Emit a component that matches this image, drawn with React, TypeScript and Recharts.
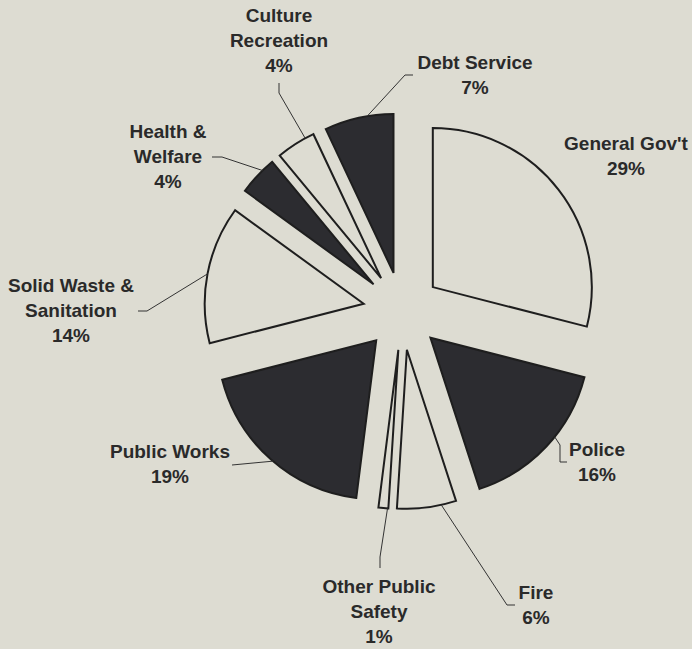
import { PieChart, Pie, Cell } from 'recharts';

// slices clockwise from 12 o'clock
const categories = [
  "General Gov't",
  'Police',
  'Fire',
  'Other Public Safety',
  'Public Works',
  'Solid Waste & Sanitation',
  'Health & Welfare',
  'Culture Recreation',
  'Debt Service',
];
const shares = [29, 16, 6, 1, 19, 14, 4, 4, 7];
const shaded = [false, true, false, false, true, false, true, false, true];
const labelText = [
  ["General Gov't"],
  ['Police'],
  ['Fire'],
  ['Other Public', 'Safety'],
  ['Public Works'],
  ['Solid Waste &', 'Sanitation'],
  ['Health &', 'Welfare'],
  ['Culture', 'Recreation'],
  ['Debt Service'],
];

const W = 692;
const H = 649;
const CX = 402;
const CY = 311;
const R = 159;
const EXPLODE = 39;
const BG = '#dddcd2';
const DARK = '#2c2c30';
const EDGE = '#1e1e1e';
const INK = '#2a2a2a';
const FONT = '"Liberation Sans", Arial, sans-serif';
const FONT_SIZE = 19;
const LINE_H = 25;

// where each label sits, and the leader path (text side first); nudge moves the arc anchor (deg, clockwise)
const labelLayout = [
  { x: 626, y: 150, lead: [] as number[][], nudge: 0 },
  { x: 597, y: 456, lead: [[567, 462], [560, 462], [560, 445]], nudge: -4.6 },
  { x: 536, y: 599, lead: [[515, 605], [507, 605]], nudge: -5.3 },
  { x: 379, y: 593, lead: [[380, 568], [380, 557]], nudge: -1.5 },
  { x: 170, y: 458, lead: [[232, 465]], nudge: -0.9 },
  { x: 71, y: 292, lead: [[138, 311], [147, 311]], nudge: 0 },
  { x: 168, y: 138, lead: [[212, 157], [222, 157]], nudge: 2.5 },
  { x: 279, y: 22, lead: [[279, 83], [279, 93]], nudge: 3.9 },
  { x: 475, y: 69, lead: [[413, 75], [405, 75]], nudge: 3.1 },
];

const data = categories.map((name, i) => ({ name, value: shares[i] }));
const total = shares.reduce((a, b) => a + b, 0);
const RAD = Math.PI / 180;

// mid angle of each slice, clockwise from 12 o'clock
const midAngles = shares.map((v, i) => {
  const before = shares.slice(0, i).reduce((a, b) => a + b, 0);
  return ((before + v / 2) / total) * 360;
});

const makeLabel = (own: number) => (props: any) => {
  if (props.index !== own) return null;
  const lay = labelLayout[own];
  const lines = [...labelText[own], `${shares[own]}%`];
  const ang = (props.midAngle - lay.nudge) * RAD;
  const ax = props.cx + Math.cos(-ang) * props.outerRadius;
  const ay = props.cy + Math.sin(-ang) * props.outerRadius;
  const pts = lay.lead.length ? [...lay.lead, [ax, ay]] : [];
  return (
    <g>
      {pts.length > 0 && (
        <polyline
          points={pts.map((p) => p.join(',')).join(' ')}
          fill="none"
          stroke="#333"
          strokeWidth={1}
        />
      )}
      <text
        x={lay.x}
        y={lay.y}
        textAnchor="middle"
        fill={INK}
        fontFamily={FONT}
        fontSize={FONT_SIZE}
        fontWeight="bold"
      >
        {lines.map((ln, k) => (
          <tspan key={k} x={lay.x} y={lay.y + k * LINE_H}>
            {ln}
          </tspan>
        ))}
      </text>
    </g>
  );
};

export default function App() {
  return (
    <div style={{ position: 'absolute', left: 0, top: 0, width: W, height: H, background: BG }}>
      <PieChart width={W} height={H} margin={{ top: 0, right: 0, bottom: 0, left: 0 }}>
        {data.map((_d, i) => (
          <Pie
            key={`slice-${i}`}
            data={data}
            dataKey="value"
            nameKey="name"
            cx={CX + EXPLODE * Math.sin(midAngles[i] * RAD)}
            cy={CY - EXPLODE * Math.cos(midAngles[i] * RAD)}
            innerRadius={0}
            outerRadius={R}
            startAngle={90}
            endAngle={-270}
            isAnimationActive={false}
            labelLine={false}
            label={makeLabel(i)}
          >
            {data.map((_e, j) => (
              <Cell
                key={`cell-${i}-${j}`}
                fill={j === i ? (shaded[j] ? DARK : BG) : 'none'}
                stroke={j === i ? EDGE : 'none'}
                strokeWidth={2}
              />
            ))}
          </Pie>
        ))}
      </PieChart>
    </div>
  );
}
